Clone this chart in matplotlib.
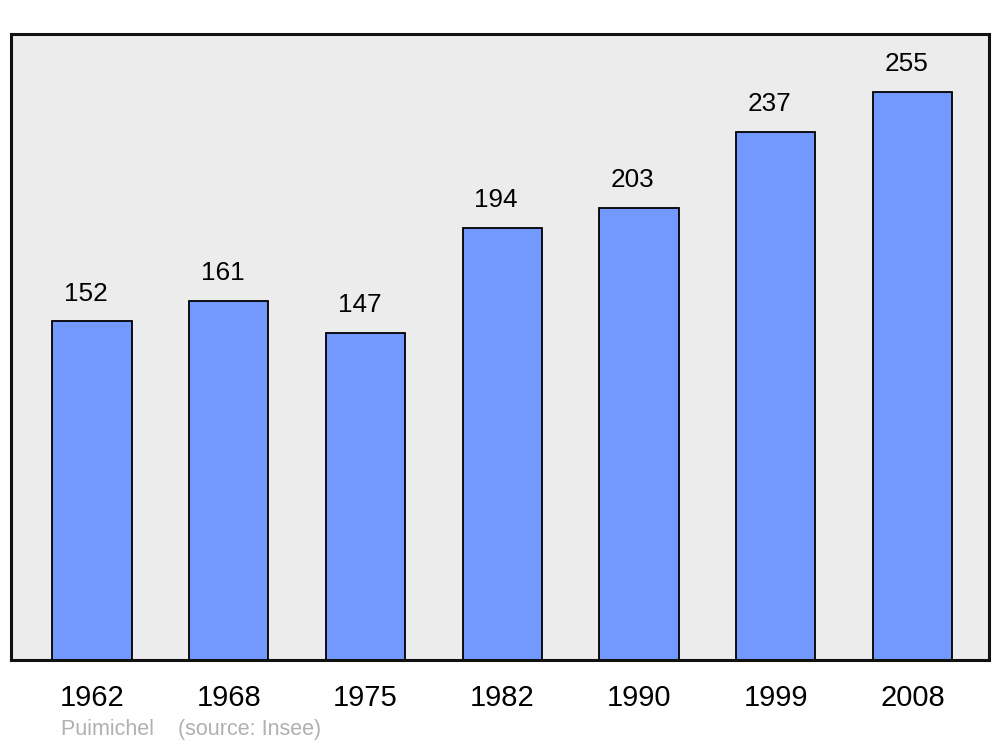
import matplotlib
matplotlib.use("Agg")
import matplotlib.pyplot as plt

years = ["1962", "1968", "1975", "1982", "1990", "1999", "2008"]
population = [152, 161, 147, 194, 203, 237, 255]

plt.rcParams['font.family'] = ['Liberation Sans', 'DejaVu Sans']

fig = plt.figure(figsize=(10, 7.47), dpi=100)
ax = fig.add_axes([0.011, 1 - 660 / 747, 0.978, (660 - 34) / 747])
ax.set_facecolor('#ececec')

x = list(range(len(years)))
ax.bar(x, population, width=0.58, color='#7399ff', edgecolor='black', linewidth=1.3, zorder=2)
for xi, v in zip(x, population):
    ax.text(xi - 0.045, v + 12.5, str(v), ha='center', va='center', fontsize=18.8, color='black')

ax.set_xlim(-0.593, 6.56)
ax.set_ylim(0, 281)
ax.set_yticks([])
ax.set_xticks(x)
ax.set_xticklabels(years, fontsize=21)
ax.tick_params(axis='x', length=0, pad=17)
for s in ax.spines.values():
    s.set_linewidth(2.2)
    s.set_color('#111111')

fig.text(0.061, 1 - 730 / 747, "Puimichel    (source: Insee)", fontsize=15.5, color='#b0b0b0', ha='left', va='center')

fig.savefig('out.png', dpi=100)
